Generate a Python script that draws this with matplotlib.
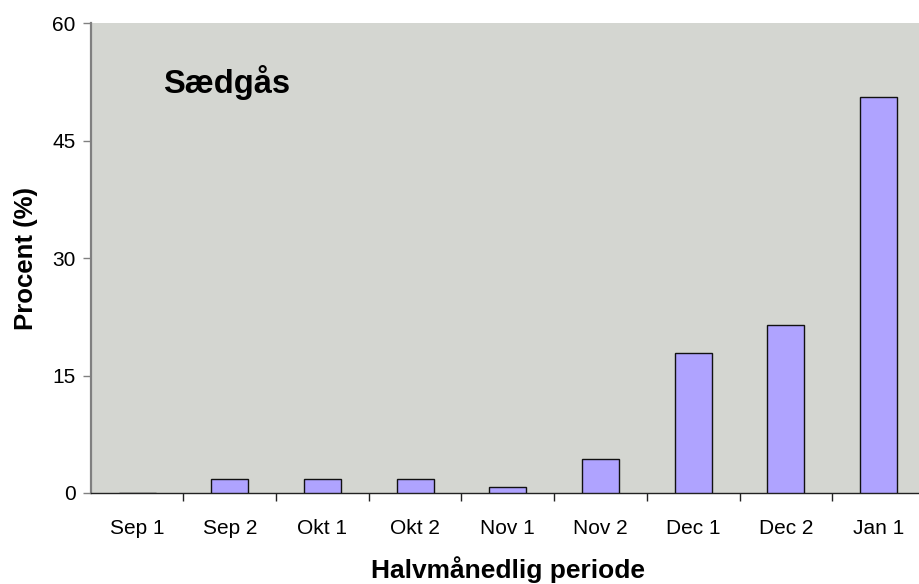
import matplotlib
matplotlib.use("Agg")
import matplotlib.pyplot as plt
import numpy as np

categories = ["Sep 1", "Sep 2", "Okt 1", "Okt 2", "Nov 1", "Nov 2", "Dec 1", "Dec 2", "Jan 1"]
values = [0.0, 1.75, 1.75, 1.75, 0.8, 4.3, 17.85, 21.5, 50.6]
yticks = [0, 15, 30, 45, 60]

plt.rcParams['font.family'] = ['Liberation Sans', 'DejaVu Sans']

fig = plt.figure(figsize=(9.2, 5.84), dpi=100)
L, R, B, T = 90.7, 925, 493, 23.3
ax = fig.add_axes([L/920, (584-B)/584, (R-L)/920, (B-T)/584])
ax.set_facecolor('#D4D6D1')

x = np.arange(len(categories))
ax.bar(x, values, width=0.4, color='#AFA3FF', edgecolor='#111111', linewidth=1.0, zorder=3)

ax.set_xlim(-0.5, len(categories) - 0.5)
ax.set_ylim(0, 60)
ax.set_yticks(yticks)
ax.set_yticklabels([str(v) for v in yticks], fontsize=15)

ax.set_xticks(x)
ax.set_xticklabels(categories, fontsize=15)
ax.tick_params(axis='x', which='major', length=0, pad=19)
ax.set_xticks(np.arange(0.5, len(categories) - 0.5, 1), minor=True)
ax.tick_params(axis='x', which='minor', length=6, width=1, color='#222222', direction='out')
ax.tick_params(axis='y', length=6, width=1, color='#808080', direction='out', pad=5)

for s in ['top', 'right']:
    ax.spines[s].set_visible(False)
ax.spines['left'].set_color('#808080')
ax.spines['left'].set_linewidth(1.6)
ax.spines['bottom'].set_color('#222222')
ax.spines['bottom'].set_linewidth(1.0)

ax.set_ylabel('Procent (%)', fontsize=18.5, fontweight='bold', labelpad=10)
ax.set_xlabel('Halvmånedlig periode', fontsize=19, fontweight='bold', labelpad=13)

ax.text(0.087, 0.873, 'Sædgås', transform=ax.transAxes, fontsize=23.5, fontweight='bold',
        ha='left', va='center')

fig.savefig('out.png', dpi=100)
